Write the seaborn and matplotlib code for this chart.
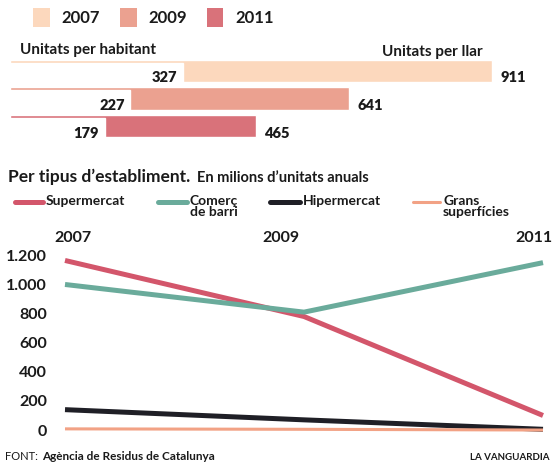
import numpy as np
import matplotlib
matplotlib.use("Agg")
import matplotlib.pyplot as plt
from matplotlib.patches import Patch
from matplotlib.lines import Line2D
import pandas as pd
import seaborn as sns

# data
bar_years = ["2007", "2009", "2011"]
per_habitant = [327, 227, 179]
per_llar = [911, 641, 465]
bar_colors = ["#fcd8bd", "#eba190", "#d9727a"]

years = [2007, 2009, 2011]
supermercat = [1165, 780, 100]
comerc_barri = [1000, 810, 1150]
hipermercat = [140, 70, 5]
grans_superficies = [8, 5, 0]

series_names = ["Supermercat", "Comerç\nde barri", "Hipermercat", "Grans\nsuperfícies"]
series_values = [supermercat, comerc_barri, hipermercat, grans_superficies]
line_colors = ["#d3566b", "#6aab9b", "#1f1f26", "#f2a285"]
line_widths = [3.6, 3.6, 3.6, 2.2]

yticks = [0, 200, 400, 600, 800, 1000, 1200]
ytick_labels = ["0", "200", "400", "600", "800", "1.000", "1.200"]

sns.set_theme(style="white")
plt.rcParams["font.family"] = ["Lato", "DejaVu Sans"]
plt.rcParams["font.weight"] = "bold"
TXT = "#1a1a1a"

W, H = 553, 463
fig = plt.figure(figsize=(W / 100, H / 100), dpi=100)


def fx(px):
    return px / W


def fy(py):
    return 1 - py / H


# ---- top: bars ----
bax = fig.add_axes([fx(10), fy(140), 543 / W, 83 / H])
sns.barplot(x=per_llar, y=bar_years, hue=bar_years, palette=bar_colors,
            orient="h", width=0.8, legend=False, ax=bax, saturation=1)
# white part for "per habitant" leaving a thin strip on top
bax.barh(np.arange(3) + 0.055, per_habitant, height=0.69, color="white", zorder=3)
bax.set_xlim(0, 911 * 543 / 482)
bax.set_ylim(2.5, -0.5)
bax.axis("off")
for i in range(3):
    bax.annotate(str(per_habitant[i]), xy=(per_habitant[i], i + 0.25),
                 xytext=(-4, 0), textcoords="offset points",
                 ha="right", va="center", fontsize=10.5, color=TXT, zorder=4,
                 fontweight="heavy")
    bax.annotate(str(per_llar[i]), xy=(per_llar[i], i + 0.25),
                 xytext=(6, 0), textcoords="offset points",
                 ha="left", va="center", fontsize=10.5, color=TXT,
                 fontweight="heavy")

fig.text(fx(20), fy(50), "Unitats per habitant", fontsize=11, color=TXT, va="center")
fig.text(fx(483), fy(52), "Unitats per llar", fontsize=11, color=TXT, va="center", ha="right")

handles = [Patch(facecolor=c, edgecolor="none") for c in bar_colors]
fig.legend(handles, bar_years, loc="upper left", bbox_to_anchor=(fx(33), fy(8)),
           ncol=3, frameon=False, fontsize=12, handlelength=1.0, handleheight=1.4,
           handletextpad=0.7, columnspacing=1.2, borderpad=0, borderaxespad=0,
           labelcolor=TXT)

# ---- bottom: lines ----
lax = fig.add_axes([fx(65), fy(434.4), (543 - 65) / W, (434.4 - 251) / H])
for name, vals, c, lw in zip(series_names, series_values, line_colors, line_widths):
    sns.lineplot(x=years, y=vals, color=c, linewidth=lw, ax=lax, clip_on=False,
                 solid_capstyle="butt")
lax.set_xlim(2007, 2011)
lax.set_ylim(-30, 1230)
lax.set_yticks(yticks)
lax.set_yticklabels(ytick_labels)
lax.set_xticks([])
lax.tick_params(axis="y", length=0, pad=13, labelsize=11.5, labelcolor=TXT)
sns.despine(ax=lax, left=True, bottom=True)

for yr, dx in zip(years, [8, -23, -9]):
    lax.annotate(str(yr), xy=(yr, 1), xycoords=("data", "axes fraction"),
                 xytext=(dx * 0.72, 4), textcoords="offset points",
                 ha="center", va="bottom", fontsize=11.5, color=TXT,
                 annotation_clip=False)

fig.text(fx(8), fy(177), "Per tipus d\u2019establiment.", fontsize=12.5, color=TXT, va="center")
fig.text(fx(197), fy(178), "En milions d\u2019unitats anuals", fontsize=10.5, color=TXT, va="center")

# manual legend for lines
leg_x = [(15, 43), (158, 187), (270, 300), (413, 440)]
for (x0, x1), name, c, lw in zip(leg_x, series_names, line_colors, line_widths):
    fig.add_artist(Line2D([fx(x0), fx(x1)], [fy(202), fy(202)], color=c, lw=lw,
                          transform=fig.transFigure))
    fig.text(fx(x1 + 3), fy(195), name, fontsize=10, color=TXT, va="top",
             linespacing=0.95)

t1 = fig.text(fx(5), fy(457), "FONT:", fontsize=8, color=TXT, va="center",
              fontweight="normal")
bax.annotate("Agència de Residus de Catalunya", xy=(1, 0.5), xycoords=t1,
             xytext=(3, 0), textcoords="offset points", ha="left", va="center",
             fontsize=8.5, color=TXT, annotation_clip=False)
fig.text(fx(550), fy(457), "LA VANGUARDIA", fontsize=7, color=TXT, va="center", ha="right")

fig.savefig("out.png", dpi=100)
